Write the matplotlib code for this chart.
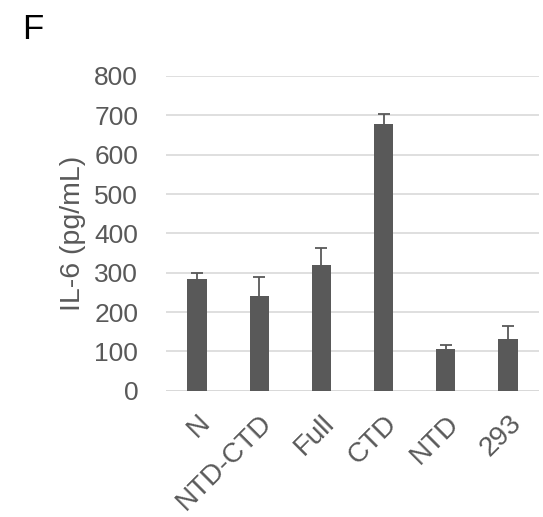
import numpy as np
import matplotlib.pyplot as plt

# Werte
categories = ['N', 'NTD-CTD', 'Full', 'CTD', 'NTD', '293']
il6 = [285, 242, 319, 677, 105, 131]
err = [15, 47, 44, 27, 12, 33]
yticks = [0, 100, 200, 300, 400, 500, 600, 700, 800]

plt.rcParams['font.family'] = ['Liberation Sans', 'DejaVu Sans']
grey = '#595959'

fig = plt.figure(figsize=(5.43, 5.17), dpi=100)
ax = fig.add_axes([0.3057, 0.2443, 0.6869, 0.6087])

x = np.arange(len(categories))
ax.bar(x, il6, width=0.31, color=grey, zorder=3)
ax.errorbar(x, il6, yerr=err, fmt='none', ecolor=grey, elinewidth=1.3,
            capsize=4, capthick=1.3, zorder=4)

ax.set_xlim(-0.5, len(categories) - 0.5)
ax.set_ylim(0, 800)
ax.set_yticks(yticks)
ax.yaxis.grid(True, color='#d9d9d9', linewidth=1.2, zorder=0)
for s in ax.spines.values():
    s.set_visible(False)
ax.axhline(0, color='#d9d9d9', linewidth=1.4, zorder=2)

ax.tick_params(axis='both', length=0, labelcolor=grey)
ax.tick_params(axis='y', pad=20, labelsize=19)
ax.set_xticks(x)
ax.set_xticklabels(categories, rotation=45, ha='right', rotation_mode='anchor')
ax.tick_params(axis='x', pad=14, labelsize=20)

ax.set_ylabel('IL-6 (pg/mL)', fontsize=20.5, color=grey)
ax.yaxis.set_label_coords(-0.214, 0.5)

fig.text(0.04, 0.975, 'F', fontsize=25, color='black', va='top')

fig.savefig('out.png', dpi=100)
